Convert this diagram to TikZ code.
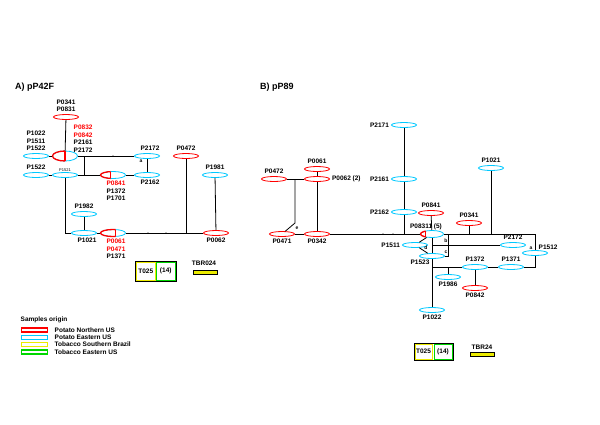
\documentclass[tikz,border=0pt]{standalone}
\usepackage{fontspec}
\setmainfont{Liberation Sans}
\usetikzlibrary{shapes.geometric, positioning, calc}

\definecolor{nusred}{RGB}{255,0,0}
\definecolor{euscyan}{RGB}{0,200,255}
\definecolor{sbyellow}{RGB}{235,235,0}
\definecolor{eusgreen}{RGB}{0,215,0}

% red share of a haplotype ellipse: node, x radius, y radius, width of red part
\newcommand{\redslice}[4]{%
  \begin{scope}
    \clip ($(#1.center)+(-#2-2pt,-#3-2pt)$) rectangle ($(#1.center)+(-#2+#4,#3+2pt)$);
    \draw[nusred, line width=1.3pt] (#1.center) ellipse [x radius=#2, y radius=#3];
  \end{scope}
  \begin{scope}
    \clip (#1.center) ellipse [x radius=#2, y radius=#3];
    \draw[nusred, line width=1.3pt] ($(#1.center)+(-#2+#4,-#3)$) -- ++(0pt,2*#3);
  \end{scope}
}

\begin{document}
\begin{tikzpicture}[
  x=1pt, y=-1pt,
  node distance=1.5pt,
  hap/.style={ellipse, draw, line width=0.8pt, minimum width=25pt, minimum height=5pt, inner sep=0pt},
  nus/.style={hap, draw=nusred},
  eus/.style={hap, draw=euscyan},
  piehap/.style={eus, minimum height=7pt},
  lbl/.style={font=\fontsize{6.5}{7.5}\selectfont\bfseries, inner sep=0.5pt, align=center},
  smalllbl/.style={font=\fontsize{5}{5}\selectfont\bfseries, inner sep=0.3pt},
  tinylbl/.style={font=\fontsize{4}{4}\selectfont, inner sep=0.3pt},
  link/.style={draw, line width=0.8pt},
  mut/.style={circle, fill, inner sep=0pt, minimum size=1.5pt},
  paneltitle/.style={font=\fontsize{9}{11}\selectfont\bfseries, anchor=west, inner sep=0pt},
  boxframe/.style={draw, line width=1pt, inner sep=0pt},
  cell/.style={lbl, line width=1pt, inner sep=0pt},
  swatch/.style={line width=1.4pt, minimum width=26pt, minimum height=4pt, inner sep=0pt},
  tbrbar/.style={draw, fill=sbyellow, line width=0.6pt, minimum width=24pt, minimum height=4pt, inner sep=0pt}
]
\useasboundingbox (0,0) rectangle (600,424);

% Panel A
\node[paneltitle] (titlea) at (15,87) {A) pP42F};

\node[nus] (a0341) at (66,117) {};
\node[lbl, above=of a0341] (a0341l) {P0341\\P0831};
\node[eus, minimum height=10pt] (apie1) at (65,156) {};
\redslice{apie1}{12.5pt}{5pt}{12.5pt}
\node[lbl, align=left, anchor=south west] (apie1l) at (73,153) {\textcolor{nusred}{P0832}\\\textcolor{nusred}{P0842}\\P2161\\P2172};
\node[eus] (a1022) at (36,156) {};
\node[lbl, above=of a1022] (a1022l) {P1022\\P1511\\P1522};
\node[eus] (a2172) at (147,156) {};
\node[lbl, above=of a2172, xshift=3pt] (a2172l) {P2172};
\node[eus] (a2162) at (147,175) {};
\node[lbl, below=of a2162, xshift=3pt] (a2162l) {P2162};
\node[smalllbl] (ma) at (141,161) {a};
\node[eus] (a1522) at (36,175) {};
\node[lbl, above=of a1522] (a1522l) {P1522};
\node[eus] (a1521) at (65,175) {};
\node[tinylbl, above=0.5pt of a1521] (a1521l) {P1521};
\node[piehap] (apie2) at (113,175) {};
\redslice{apie2}{12.5pt}{3.5pt}{10pt}
\node[lbl, below=of apie2, xshift=3pt] (apie2l) {\textcolor{nusred}{P0841}\\P1372\\P1701};
\node[nus] (a0472) at (186,156) {};
\node[lbl, above=of a0472] (a0472l) {P0472};
\node[eus] (a1981) at (215,175) {};
\node[lbl, above=of a1981] (a1981l) {P1981};
\node[eus] (a1982) at (84,214) {};
\node[lbl, above=of a1982] (a1982l) {P1982};
\node[eus] (a1021) at (84,233) {};
\node[lbl, below=of a1021, xshift=3pt] (a1021l) {P1021};
\node[piehap] (apie3) at (113,233) {};
\redslice{apie3}{12.5pt}{3.5pt}{15pt}
\node[lbl, below=of apie3, xshift=3pt] (apie3l) {\textcolor{nusred}{P0061}\\\textcolor{nusred}{P0471}\\P1371};
\node[nus] (a0062) at (216,233) {};
\node[lbl, below=of a0062] (a0062l) {P0062};

\coordinate (ja1) at (84,156);
\coordinate (ja2) at (84,175);
\coordinate (ja3) at (65,233);
\coordinate (ja4) at (186,233);

\draw[link] (a0341) -- (apie1);
\draw[link] (a1022) -- (apie1) -- (a2172) -- (a2162);
\draw[link] (a1522) -- (a1521) -- (apie2) -- (a2162);
\draw[link] (ja1) -- (ja2);
\draw[link] (a1521) -- (ja3) -- (a1021);
\draw[link] (a1982) -- (a1021) -- (apie3) -- (a0062);
\draw[link] (a0472) -- (ja4);
\draw[link] (a1981) -- (a0062);

\node[mut] (ma1) at (113,156) {};
\node[mut] (ma2) at (148,233) {};
\node[mut] (ma3) at (166,233) {};

\node[boxframe, minimum width=41pt, minimum height=20pt] (aframe) at (155.5,271) {};
\node[cell, draw=sbyellow, minimum width=19pt, minimum height=18pt] (at025) at (145.75,271) {T025};
\node[cell, draw=eusgreen, minimum width=19pt, minimum height=18pt] (a14) at (165.75,271) {(14)};
\node[lbl] (atbr) at (204,263) {TBR024};
\node[tbrbar] (atbrbar) at (205,272) {};

% Legend
\node[lbl, anchor=west] (legt) at (20,320) {Samples origin};
\node[swatch, draw=nusred] (sw1) at (34.5,330) {};
\node[lbl, anchor=west] (lg1) at (54,330) {Potato Northern US};
\node[swatch, draw=euscyan] (sw2) at (34.5,337.3) {};
\node[lbl, anchor=west] (lg2) at (54,337.3) {Potato Eastern US};
\node[swatch, draw=sbyellow] (sw3) at (34.5,344.6) {};
\node[lbl, anchor=west] (lg3) at (54,344.6) {Tobacco Southern Brazil};
\node[swatch, draw=eusgreen] (sw4) at (34.5,351.9) {};
\node[lbl, anchor=west] (lg4) at (54,351.9) {Tobacco Eastern US};

% Panel B
\node[paneltitle] (titleb) at (260,87) {B) pP89};

\node[eus] (b2171) at (404,125) {};
\node[lbl, left=of b2171] (b2171l) {P2171};
\node[eus] (b2161) at (404,179) {};
\node[lbl, left=of b2161] (b2161l) {P2161};
\node[eus] (b2162) at (404,212) {};
\node[lbl, left=of b2162] (b2162l) {P2162};
\node[nus] (b0841) at (431,213) {};
\node[lbl, above=of b0841] (b0841l) {P0841};
\node[piehap, minimum width=23pt] (bpie) at (432,234) {};
\redslice{bpie}{11.5pt}{3.5pt}{5pt}
\node[lbl, anchor=south] (bpiel) at (426,230.5) {P08311 (5)};

\node[nus] (b0472) at (274,179) {};
\node[lbl, above=of b0472] (b0472l) {P0472};
\node[nus] (b0061) at (317,169) {};
\node[lbl, above=of b0061] (b0061l) {P0061};
\node[nus] (b0062) at (317,179) {};
\node[lbl, right=of b0062] (b0062l) {P0062 (2)};
\node[nus] (b0471) at (282,234) {};
\node[lbl, below=of b0471] (b0471l) {P0471};
\node[nus] (b0342) at (317,234) {};
\node[lbl, below=of b0342] (b0342l) {P0342};
\node[smalllbl] (me) at (297,228) {e};

\node[eus] (b1511) at (415,245) {};
\node[lbl, left=of b1511] (b1511l) {P1511};
\node[eus] (b1523) at (432,256) {};
\node[lbl] (b1523l) at (420,262) {P1523};
\node[eus] (b2172) at (513,245) {};
\node[lbl, above=of b2172] (b2172l) {P2172};
\node[eus] (b1512) at (535,253) {};
\node[lbl, anchor=west] (b1512l) at (538,247) {P1512};
\node[eus] (b1372) at (475,267) {};
\node[lbl, above=of b1372] (b1372l) {P1372};
\node[eus] (b1371) at (511,267) {};
\node[lbl, above=of b1371] (b1371l) {P1371};
\node[eus] (b1986) at (448,277) {};
\node[lbl, below=of b1986] (b1986l) {P1986};
\node[nus] (b0842) at (475,288) {};
\node[lbl, below=of b0842] (b0842l) {P0842};
\node[eus] (b1022) at (432,310) {};
\node[lbl, below=of b1022] (b1022l) {P1022};
\node[eus] (b1021) at (491,168) {};
\node[lbl, above=of b1021] (b1021l) {P1021};
\node[nus] (b0341) at (469,223) {};
\node[lbl, above=of b0341] (b0341l) {P0341};
\node[smalllbl] (mb) at (446,241) {b};
\node[smalllbl] (mc) at (446,252) {c};
\node[smalllbl] (md) at (426,248) {d};
\node[smalllbl] (mab) at (531,248) {a};

\coordinate (jb1) at (404,234);
\coordinate (jb2) at (295,179);
\coordinate (jb3) at (295,223);
\coordinate (jb4) at (535,234);
\coordinate (jb5) at (535,267);
\coordinate (jb6) at (432,267);
\coordinate (jb7) at (432,245);
\coordinate (jb8) at (448,256);
\coordinate (jb9) at (448,234);
\coordinate (jb10) at (469,234);
\coordinate (jb11) at (491,234);
\coordinate (jb12) at (448,267);

\draw[link] (b2171) -- (b2161) -- (b2162) -- (jb1);
\draw[link] (b0472) -- (b0062);
\draw[link] (b0061) -- (b0062) -- (b0342);
\draw[link] (jb2) -- (jb3) -- (b0471);
\draw[link] (b0471) -- (b0342) -- (bpie);
\draw[link] (b0841) -- (bpie);
\draw[link] (bpie) -- (jb4) -- (b1512) -- (jb5) -- (b1371) -- (b1372) -- (jb6);
\draw[link] (bpie) -- (b1511) -- (b1523);
\draw[link] (bpie) -- (b1523) -- (b1022);
\draw[link] (jb7) -- (b2172);
\draw[link] (b1523) -- (jb8) -- (jb9);
\draw[link] (b0341) -- (jb10);
\draw[link] (b1021) -- (jb11);
\draw[link] (jb12) -- (b1986);
\draw[link] (b1372) -- (b0842);

\node[mut] (mb1) at (383,234) {};
\node[mut] (mb2) at (393,234) {};

\node[boxframe, minimum width=39pt, minimum height=17pt] (bframe) at (433.5,351.5) {};
\node[cell, draw=sbyellow, minimum width=17pt, minimum height=15pt] (bt025) at (423.5,351.5) {T025};
\node[cell, draw=eusgreen, minimum width=18pt, minimum height=15pt] (b14) at (443,351.5) {(14)};
\node[lbl] (btbr) at (482,347) {TBR24};
\node[tbrbar] (btbrbar) at (482,354) {};

\end{tikzpicture}
\end{document}
